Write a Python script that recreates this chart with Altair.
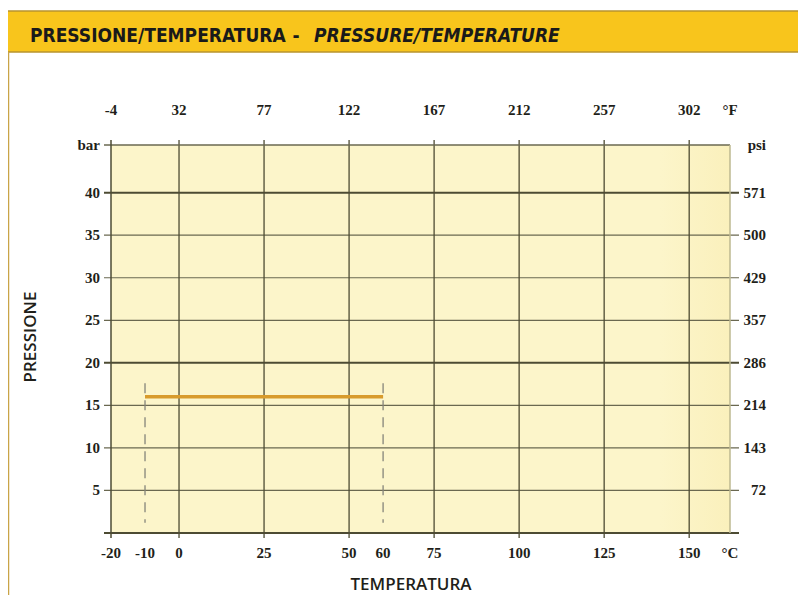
import altair as alt
import pandas as pd

# ---- data ----
celsius_ticks = [-20, -10, 0, 25, 50, 60, 75, 100, 125, 150]
celsius_labels = ["-20", "-10", "0", "25", "50", "60", "75", "100", "125", "150"]
grid_celsius = [0, 25, 50, 75, 100, 125, 150]
fahrenheit_at_celsius = [-20, 0, 25, 50, 75, 100, 125, 150]
fahrenheit_labels = ["-4", "32", "77", "122", "167", "212", "257", "302"]
bar_ticks = [5, 10, 15, 20, 25, 30, 35, 40]
bar_labels = ["5", "10", "15", "20", "25", "30", "35", "40"]
minor_bar = [5, 10, 15, 25, 30, 35]
major_bar = [20, 40]
psi_labels = ["72", "143", "214", "286", "357", "429", "500", "571"]
range_temp = [-10, 60]
range_pressure = [16]
dash_top = 17.6
dash_bottom = 1.2
x_min, x_max = -20, 162
y_min, y_max = 0, 45.6

W, H = 619, 388

xs = alt.Scale(domain=[x_min, x_max], nice=False, zero=False)
ys = alt.Scale(domain=[y_min, y_max], nice=False, zero=False)

LABEL_FONT = "Liberation Serif"
LABEL_SIZE = 15
INK = "#1f1f1a"
GRID_DARK = "#4d4b33"
GRID = "#6a6850"

one = pd.DataFrame({"k": [0]})

# decorative header bar and left frame line
header = alt.Chart(one).mark_rect(color="#f8c51c", stroke="#b8942e", strokeWidth=1.5).encode(
    x=alt.value(-104), x2=alt.value(W + 80), y=alt.value(-134), y2=alt.value(-93)
)
left_frame = alt.Chart(one).mark_rule(color="#c9a447", strokeWidth=2.5).encode(
    x=alt.value(-103), y=alt.value(-93), y2=alt.value(H + 70)
)
title_a = alt.Chart(one).mark_text(
    text="PRESSIONE/TEMPERATURA", font="DejaVu Sans Condensed", fontWeight="bold",
    fontSize=19, align="left", baseline="middle", color="#1a1a1a"
).encode(x=alt.value(-81), y=alt.value(-109))
title_dash = alt.Chart(one).mark_text(
    text="-", font="DejaVu Sans Condensed", fontWeight="bold",
    fontSize=19, align="center", baseline="middle", color="#1a1a1a"
).encode(x=alt.value(185), y=alt.value(-109))
title_b = alt.Chart(one).mark_text(
    text="PRESSURE/TEMPERATURE", font="DejaVu Sans Condensed", fontWeight="bold",
    fontStyle="italic", fontSize=19, align="left", baseline="middle", color="#1a1a1a"
).encode(x=alt.value(203), y=alt.value(-109))

# slight warm shading towards the right edge of the plot area
shade = alt.Chart(one).mark_rect(
    color=alt.LinearGradient(
        gradient="linear", x1=0, x2=1, y1=0, y2=0,
        stops=[alt.GradientStop(color="#fcf5ca", offset=0),
               alt.GradientStop(color="#faf0bc", offset=1)],
    )
).encode(x=alt.value(W - 70), x2=alt.value(W), y=alt.value(0), y2=alt.value(H))

# grid
h_minor = alt.Chart(pd.DataFrame({"bar": minor_bar})).mark_rule(color=GRID, strokeWidth=1.2).encode(
    y=alt.Y("bar:Q", scale=ys, axis=None), x=alt.value(-7), x2=alt.value(W + 9)
)
h_major = alt.Chart(pd.DataFrame({"bar": major_bar})).mark_rule(color=GRID_DARK, strokeWidth=2).encode(
    y=alt.Y("bar:Q", scale=ys, axis=None), x=alt.value(-7), x2=alt.value(W + 9)
)
v_grid = alt.Chart(pd.DataFrame({"c": grid_celsius})).mark_rule(color=GRID_DARK, strokeWidth=1.3).encode(
    x=alt.X("c:Q", scale=xs, axis=None), y=alt.value(-5), y2=alt.value(H + 5)
)

# frame lines
frame_top = alt.Chart(one).mark_rule(color=GRID, strokeWidth=1.5).encode(
    y=alt.value(0), x=alt.value(-7), x2=alt.value(W))
frame_left = alt.Chart(one).mark_rule(color=GRID_DARK, strokeWidth=1.5).encode(
    x=alt.value(0), y=alt.value(-5), y2=alt.value(H + 5))
frame_bottom = alt.Chart(one).mark_rule(color=GRID_DARK, strokeWidth=2).encode(
    y=alt.value(H), x=alt.value(-7), x2=alt.value(W + 9))
frame_right = alt.Chart(one).mark_rule(color="#bdb891", strokeWidth=1.5).encode(
    x=alt.value(W), y=alt.value(0), y2=alt.value(H))

# operating range
dash_df = pd.DataFrame({"t": range_temp, "top": [dash_top] * 2, "bottom": [dash_bottom] * 2})
dashes = alt.Chart(dash_df).mark_rule(color="#85847a", strokeWidth=1.3, strokeDash=[10, 7]).encode(
    x=alt.X("t:Q", scale=xs, axis=None), y=alt.Y("top:Q", scale=ys, axis=None), y2="bottom:Q"
)
range_df = pd.DataFrame({"t0": [range_temp[0]], "t1": [range_temp[1]], "p": range_pressure})
range_line = alt.Chart(range_df).mark_rule(color="#d89b2c", strokeWidth=3.5).encode(
    x=alt.X("t0:Q", scale=xs, axis=None), x2="t1:Q", y=alt.Y("p:Q", scale=ys, axis=None)
)

label_style = dict(font=LABEL_FONT, fontWeight="bold", fontSize=LABEL_SIZE, color=INK, baseline="middle")

# °C labels (bottom)
c_df = pd.DataFrame({"c": celsius_ticks + [x_max], "lab": celsius_labels + ["°C"]})
c_text = alt.Chart(c_df).mark_text(align="center", **label_style).encode(
    x=alt.X("c:Q", scale=xs, axis=None), y=alt.value(H + 20), text="lab:N")
# °F labels (top)
f_df = pd.DataFrame({"c": fahrenheit_at_celsius + [x_max], "lab": fahrenheit_labels + ["°F"]})
f_text = alt.Chart(f_df).mark_text(align="center", **label_style).encode(
    x=alt.X("c:Q", scale=xs, axis=None), y=alt.value(-35), text="lab:N")
# bar labels (left)
b_df = pd.DataFrame({"bar": bar_ticks + [y_max], "lab": bar_labels + ["bar"]})
b_text = alt.Chart(b_df).mark_text(align="right", **label_style).encode(
    y=alt.Y("bar:Q", scale=ys, axis=None), x=alt.value(-11), text="lab:N")
# psi labels (right)
psi_df = pd.DataFrame({"bar": bar_ticks + [y_max], "lab": psi_labels + ["psi"]})
psi_text = alt.Chart(psi_df).mark_text(align="right", **label_style).encode(
    y=alt.Y("bar:Q", scale=ys, axis=None), x=alt.value(655), text="lab:N")

# axis titles
y_title = alt.Chart(one).mark_text(
    text="PRESSIONE", font="Open Sans", fontWeight=600, fontSize=17, color=INK,
    angle=270, align="center", baseline="middle"
).encode(x=alt.value(-80), y=alt.value(192))
x_title = alt.Chart(one).mark_text(
    text="TEMPERATURA", font="Open Sans", fontWeight=600, fontSize=17, color=INK,
    align="center", baseline="middle"
).encode(x=alt.value(300), y=alt.value(H + 52))

chart = alt.layer(
    header, left_frame, title_a, title_dash, title_b, shade,
    h_minor, h_major, v_grid,
    frame_top, frame_left, frame_bottom, frame_right,
    dashes, range_line, c_text, f_text, b_text, psi_text, y_title, x_title,
).properties(
    width=W, height=H,
    autosize=alt.AutoSizeParams(type="none"),
    padding={"left": 103, "top": 137, "right": 68, "bottom": 62},
    background="white",
).configure_view(fill="#fcf5ca", stroke=None)

chart.save("out.html", embed_options={"renderer": "svg", "actions": False})
